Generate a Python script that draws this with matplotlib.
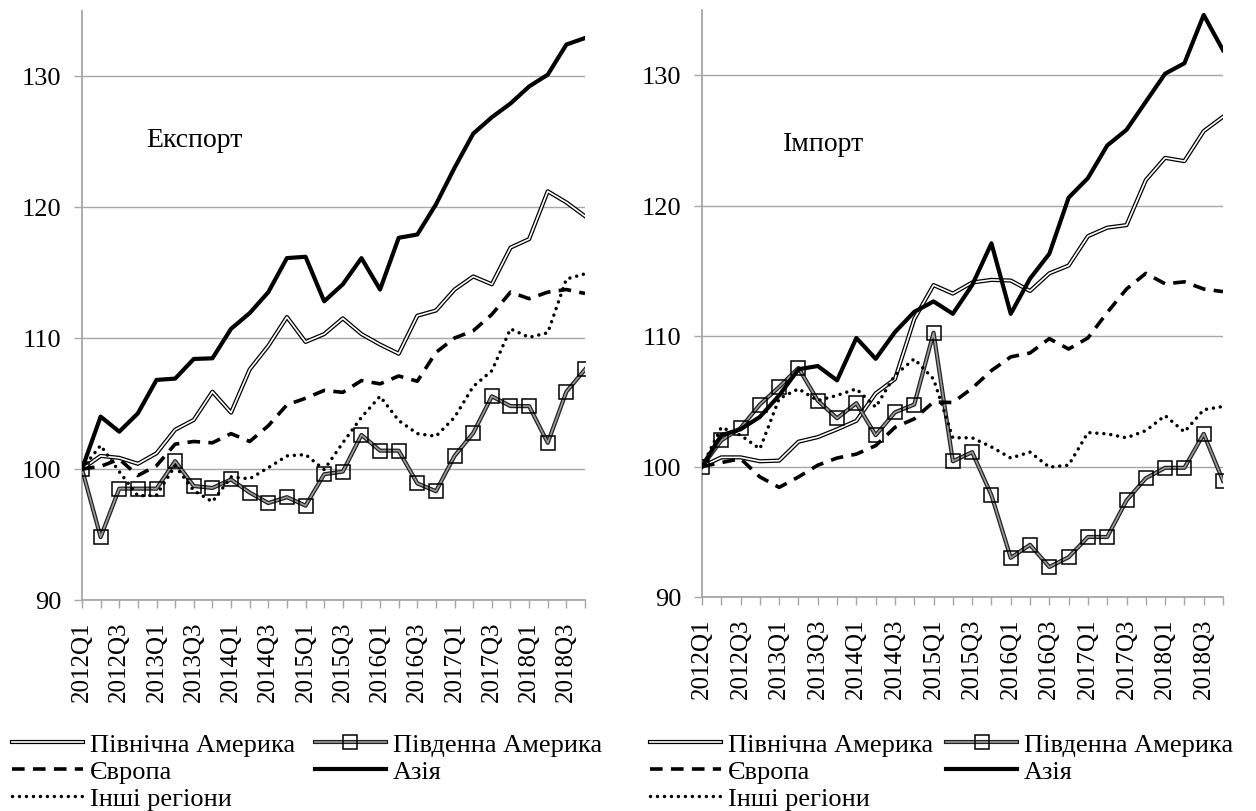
import matplotlib
matplotlib.use('Agg')
import matplotlib.pyplot as plt
from matplotlib.legend_handler import HandlerTuple

plt.rcParams['font.family'] = 'serif'
plt.rcParams['font.serif'] = ['Liberation Serif', 'DejaVu Serif']
plt.rcParams['font.size'] = 18

quarters = ['2012Q1', '2012Q2', '2012Q3', '2012Q4', '2013Q1', '2013Q2', '2013Q3', '2013Q4',
            '2014Q1', '2014Q2', '2014Q3', '2014Q4', '2015Q1', '2015Q2', '2015Q3', '2015Q4',
            '2016Q1', '2016Q2', '2016Q3', '2016Q4', '2017Q1', '2017Q2', '2017Q3', '2017Q4',
            '2018Q1', '2018Q2', '2018Q3', '2018Q4']

series_names = ['Північна Америка', 'Південна Америка', 'Європа', 'Азія', 'Інші регіони']

# Export
exp_na = [100, 101.0, 100.85, 100.4, 101.2, 103.0, 103.75, 105.9, 104.3, 107.6, 109.4, 111.6, 109.7, 110.3,
          111.5, 110.3, 109.5, 108.8, 111.7, 112.1, 113.7, 114.7, 114.1, 116.9, 117.55, 121.2, 120.35, 119.3]
exp_sa = [100, 94.8, 98.5, 98.5, 98.5, 100.6, 98.7, 98.55, 99.2, 98.2, 97.4, 97.85, 97.2, 99.6,
          99.8, 102.6, 101.4, 101.4, 98.9, 98.3, 101.0, 102.75, 105.55, 104.8, 104.8, 102.0, 105.9, 107.6]
exp_eu = [100, 100.2, 100.75, 99.5, 100.25, 101.9, 102.1, 102.0, 102.7, 102.1, 103.3, 104.9, 105.4, 106.0,
          105.85, 106.75, 106.5, 107.1, 106.7, 108.9, 110.0, 110.55, 111.8, 113.5, 113.0, 113.5, 113.7, 113.4]
exp_asia = [100, 104.0, 102.85, 104.25, 106.8, 106.9, 108.4, 108.45, 110.7, 111.9, 113.5, 116.1, 116.2, 112.8,
            114.1, 116.1, 113.7, 117.65, 117.9, 120.2, 123.0, 125.6, 126.85, 127.9, 129.2, 130.1, 132.4, 132.9]
exp_oth = [100, 101.8, 99.8, 97.95, 98.0, 100.25, 98.35, 97.5, 99.4, 99.25, 100.1, 101.0, 101.1, 99.95,
           102.0, 103.95, 105.55, 103.7, 102.7, 102.5, 103.95, 106.3, 107.5, 110.7, 110.05, 110.4, 114.5, 114.9]

# Import
imp_na = [100, 100.7, 100.7, 100.4, 100.45, 101.9, 102.25, 102.85, 103.5, 105.6, 106.7, 111.3, 113.9, 113.25,
          114.1, 114.3, 114.25, 113.45, 114.8, 115.4, 117.65, 118.3, 118.5, 121.95, 123.65, 123.4, 125.7, 126.8]
imp_sa = [100, 102.0, 102.95, 104.75, 106.1, 107.55, 105.05, 103.7, 104.85, 102.4, 104.15, 104.75, 110.25, 100.4,
          101.1, 97.8, 93.0, 94.0, 92.3, 93.05, 94.6, 94.6, 97.4, 99.1, 99.9, 99.9, 102.5, 98.9]
imp_eu = [100, 100.3, 100.6, 99.2, 98.4, 99.2, 100.1, 100.65, 100.95, 101.6, 103.0, 103.65, 104.95, 104.9,
          106.0, 107.35, 108.4, 108.7, 109.8, 109.0, 109.85, 111.8, 113.6, 114.8, 114.0, 114.15, 113.6, 113.4]
imp_asia = [100, 102.4, 102.85, 103.8, 105.45, 107.45, 107.7, 106.6, 109.85, 108.25, 110.3, 111.85, 112.65, 111.7,
            113.9, 117.1, 111.7, 114.4, 116.3, 120.6, 122.1, 124.6, 125.8, 127.95, 130.1, 130.9, 134.6, 131.9]
imp_oth = [100, 103.0, 102.4, 101.35, 105.2, 105.95, 105.05, 105.45, 105.95, 104.55, 107.0, 108.25, 106.7, 102.2,
           102.2, 101.5, 100.65, 101.1, 99.95, 100.1, 102.6, 102.5, 102.2, 102.75, 103.9, 102.65, 104.35, 104.6]

yticks = [90, 100, 110, 120, 130]

W, H = 1256, 812
fig = plt.figure(figsize=(W / 100, H / 100), dpi=100)


def ax_rect(l, r, t, b):
    return [l / W, 1 - b / H, (r - l) / W, (b - t) / H]


GRAY = '#a6a6a6'


def draw(ax, na, sa, eu, asia, oth, title, tx, ty):
    x = list(range(len(quarters)))
    na_o, = ax.plot(x, na, color='black', lw=3.0, zorder=3)
    na_i, = ax.plot(x, na, color='white', lw=1.2, zorder=3.1)
    sa_o, = ax.plot(x, sa, color='#222222', lw=3.0, zorder=3.2)
    sa_i, = ax.plot(x, sa, color='#9a9a9a', lw=1.2, zorder=3.3)
    sa_m, = ax.plot(x, sa, ls='none', marker='s', ms=9.5, mfc='none', mec='black', mew=1.1, zorder=3.4)
    eu_l, = ax.plot(x, eu, color='black', lw=2.6, ls=(0, (3.5, 2.3)), zorder=3.5)
    as_l, = ax.plot(x, asia, color='black', lw=3.0, zorder=3.6)
    ot_l, = ax.plot(x, oth, color='black', lw=2.5, ls=(0, (0.01, 2.0)), dash_capstyle='round', zorder=3.7)

    ax.set_xlim(0, len(quarters) - 1)
    ax.set_ylim(90, 135)
    ax.set_yticks(yticks)
    ax.set_yticklabels([str(v) for v in yticks], fontsize=19)
    ax.set_xticks(x[::2])
    ax.set_xticklabels(quarters[::2], rotation=90, fontsize=18)
    ax.set_xticks(x[1::2], minor=True)
    ax.grid(axis='y', color=GRAY, lw=1.0)
    ax.set_axisbelow(True)
    for s in ['top', 'right']:
        ax.spines[s].set_visible(False)
    for s in ['left', 'bottom']:
        ax.spines[s].set_color(GRAY)
        ax.spines[s].set_linewidth(1.3)
    ax.tick_params(axis='x', which='both', direction='out', length=6, width=1, color=GRAY, pad=9)
    ax.tick_params(axis='y', direction='out', length=6, width=1, color=GRAY, pad=9)
    ax.text(tx, ty, title, transform=ax.transAxes, ha='left', va='baseline', fontsize=20)
    return [(na_o, na_i), eu_l, ot_l, (sa_o, sa_i, sa_m), as_l]


ax1 = fig.add_axes(ax_rect(82, 585, 11.5, 601))
ax2 = fig.add_axes(ax_rect(702, 1223, 10.75, 598))

h1 = draw(ax1, exp_na, exp_sa, exp_eu, exp_asia, exp_oth, 'Експорт', 0.127, 0.770)
h2 = draw(ax2, imp_na, imp_sa, imp_eu, imp_asia, imp_oth, 'Імпорт', 0.155, 0.761)

labels = [series_names[0], series_names[2], series_names[4], series_names[1], series_names[3]]

for h, x0, cs in [(h1, 12, 0.75), (h2, 650, 0.5)]:
    fig.legend(handles=h, labels=labels, ncol=2, loc='upper left',
               bbox_to_anchor=(x0 / W, 1 - 734 / H), frameon=False,
               handlelength=2.7, handletextpad=0.25, columnspacing=cs,
               labelspacing=0.12, borderpad=0, borderaxespad=0,
               handler_map={tuple: HandlerTuple(ndivide=1)}, fontsize=19)

fig.savefig('out.png', dpi=100)
